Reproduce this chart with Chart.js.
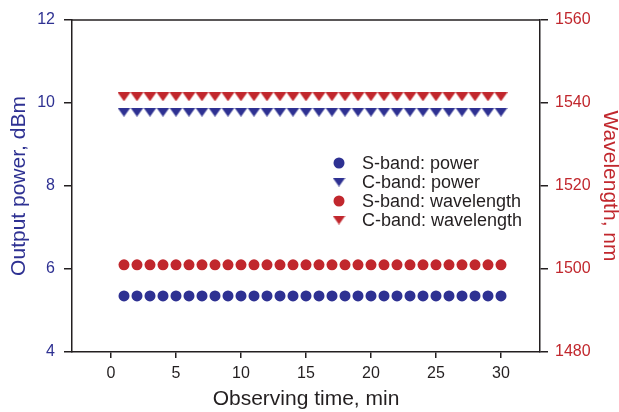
<!DOCTYPE html>
<html>
<head>
<meta charset="utf-8">
<script src="https://cdn.jsdelivr.net/npm/chart.js@4"></script>
<style>
  html, body { margin: 0; padding: 0; background: #fff; }
  #wrap { width: 619px; height: 412px; }
</style>
</head>
<body>
<div id="wrap"><canvas id="myChart" width="619" height="412"></canvas></div>
<script>
// observing time, min
const time = [1, 2, 3, 4, 5, 6, 7, 8, 9, 10, 11, 12, 13, 14, 15, 16, 17, 18, 19, 20, 21, 22, 23, 24, 25, 26, 27, 28, 29, 30];
// output power, dBm
const sBandPower = [5.35, 5.35, 5.35, 5.35, 5.35, 5.35, 5.35, 5.35, 5.35, 5.35, 5.35, 5.35, 5.35, 5.35, 5.35, 5.35, 5.35, 5.35, 5.35, 5.35, 5.35, 5.35, 5.35, 5.35, 5.35, 5.35, 5.35, 5.35, 5.35, 5.35];
const cBandPower = [9.78, 9.78, 9.78, 9.78, 9.78, 9.78, 9.78, 9.78, 9.78, 9.78, 9.78, 9.78, 9.78, 9.78, 9.78, 9.78, 9.78, 9.78, 9.78, 9.78, 9.78, 9.78, 9.78, 9.78, 9.78, 9.78, 9.78, 9.78, 9.78, 9.78];
// wavelength, nm
const sBandWavelength = [1501, 1501, 1501, 1501, 1501, 1501, 1501, 1501, 1501, 1501, 1501, 1501, 1501, 1501, 1501, 1501, 1501, 1501, 1501, 1501, 1501, 1501, 1501, 1501, 1501, 1501, 1501, 1501, 1501, 1501];
const cBandWavelength = [1541.5, 1541.5, 1541.5, 1541.5, 1541.5, 1541.5, 1541.5, 1541.5, 1541.5, 1541.5, 1541.5, 1541.5, 1541.5, 1541.5, 1541.5, 1541.5, 1541.5, 1541.5, 1541.5, 1541.5, 1541.5, 1541.5, 1541.5, 1541.5, 1541.5, 1541.5, 1541.5, 1541.5, 1541.5, 1541.5];

const xTicks = [0, 5, 10, 15, 20, 25, 30];
const powerTicks = [4, 6, 8, 10, 12];
const wavelengthTicks = [1480, 1500, 1520, 1540, 1560];

const BLUE = '#2e3192';
const RED = '#c1272d';
const INK = '#231f20';
const FONT = "'Liberation Sans', Arial, Helvetica, sans-serif";

// flat downward triangle marker (wider than tall, like the original)
function triangleMarker(color) {
  const c = document.createElement('canvas');
  c.width = 13;
  c.height = 9;
  const g = c.getContext('2d');
  g.fillStyle = color;
  g.beginPath();
  g.moveTo(0, 0);
  g.lineTo(13, 0);
  g.lineTo(6.5, 9);
  g.closePath();
  g.fill();
  return c;
}

const toPoints = (ys) => time.map((t, i) => ({x: t, y: ys[i]}));

const series = [
  {label: 'S-band: power', data: sBandPower, color: BLUE, style: 'circle', axis: 'yPower'},
  {label: 'C-band: power', data: cBandPower, color: BLUE, style: triangleMarker(BLUE), axis: 'yPower'},
  {label: 'S-band: wavelength', data: sBandWavelength, color: RED, style: 'circle', axis: 'yWave'},
  {label: 'C-band: wavelength', data: cBandWavelength, color: RED, style: triangleMarker(RED), axis: 'yWave'}
];

// top border of the frame + legend drawn inside the plot
const framePlugin = {
  id: 'frame',
  afterDraw(chart) {
    const {ctx, chartArea} = chart;
    ctx.save();
    ctx.strokeStyle = INK;
    ctx.lineWidth = 1.5;
    ctx.beginPath();
    ctx.moveTo(chartArea.left, chartArea.top);
    ctx.lineTo(chartArea.right, chartArea.top);
    ctx.stroke();

    const mx = 339, tx = 362, y0 = 163, dy = 19;
    ctx.font = '18px ' + FONT;
    ctx.textBaseline = 'middle';
    ctx.textAlign = 'left';
    series.forEach((s, i) => {
      const y = y0 + i * dy;
      if (s.style === 'circle') {
        ctx.fillStyle = s.color;
        ctx.beginPath();
        ctx.arc(mx, y, 5.5, 0, Math.PI * 2);
        ctx.fill();
      } else {
        ctx.drawImage(s.style, mx - 6.5, y - 4.5);
      }
      ctx.fillStyle = INK;
      ctx.fillText(s.label, tx, y + 1);
    });
    ctx.restore();
  }
};

const plainNumber = (v) => String(v);

new Chart(document.getElementById('myChart'), {
  type: 'scatter',
  data: {
    datasets: series.map(s => ({
      label: s.label,
      data: toPoints(s.data),
      yAxisID: s.axis,
      pointStyle: s.style,
      pointRadius: 5.5,
      backgroundColor: s.color,
      borderColor: s.color,
      borderWidth: 0
    }))
  },
  options: {
    responsive: false,
    animation: false,
    layout: {padding: {top: 20, left: 0, right: 0, bottom: 0}},
    plugins: {legend: {display: false}, tooltip: {enabled: false}},
    scales: {
      x: {
        type: 'linear',
        position: 'bottom',
        min: -3,
        max: 33,
        afterBuildTicks: (scale) => { scale.ticks = xTicks.map(v => ({value: v})); },
        afterFit: (scale) => { scale.height = 60; },
        grid: {drawOnChartArea: false, tickLength: 6, color: INK, lineWidth: 1.5},
        border: {display: true, color: INK, width: 1.5},
        ticks: {padding: 6, color: INK, font: {family: FONT, size: 16}, callback: plainNumber},
        title: {display: true, text: 'Observing time, min', color: INK, font: {family: FONT, size: 21, lineHeight: 1.2}, padding: {top: 0, bottom: 0}}
      },
      yPower: {
        type: 'linear',
        position: 'left',
        min: 4,
        max: 12,
        afterBuildTicks: (scale) => { scale.ticks = powerTicks.map(v => ({value: v})); },
        afterFit: (scale) => { scale.width = 72; },
        grid: {drawOnChartArea: false, tickLength: 8, color: INK, lineWidth: 1.5},
        border: {display: true, color: INK, width: 1.5},
        ticks: {padding: 9, color: BLUE, font: {family: FONT, size: 16}, callback: plainNumber},
        title: {display: true, text: 'Output power, dBm', color: BLUE, font: {family: FONT, size: 21, lineHeight: 0.9}, padding: {top: 9.5, bottom: 0}}
      },
      yWave: {
        type: 'linear',
        position: 'right',
        min: 1480,
        max: 1560,
        afterBuildTicks: (scale) => { scale.ticks = wavelengthTicks.map(v => ({value: v})); },
        afterFit: (scale) => { scale.width = 79; },
        grid: {drawOnChartArea: false, tickLength: 8, color: INK, lineWidth: 1.5},
        border: {display: true, color: INK, width: 1.5},
        ticks: {padding: 7, color: RED, font: {family: FONT, size: 16}, callback: plainNumber},
        title: {display: true, text: 'Wavelength, nm', color: RED, font: {family: FONT, size: 21, lineHeight: 0.9}, padding: {top: 0, bottom: 0}}
      }
    }
  },
  plugins: [framePlugin]
});
</script>
</body>
</html>
